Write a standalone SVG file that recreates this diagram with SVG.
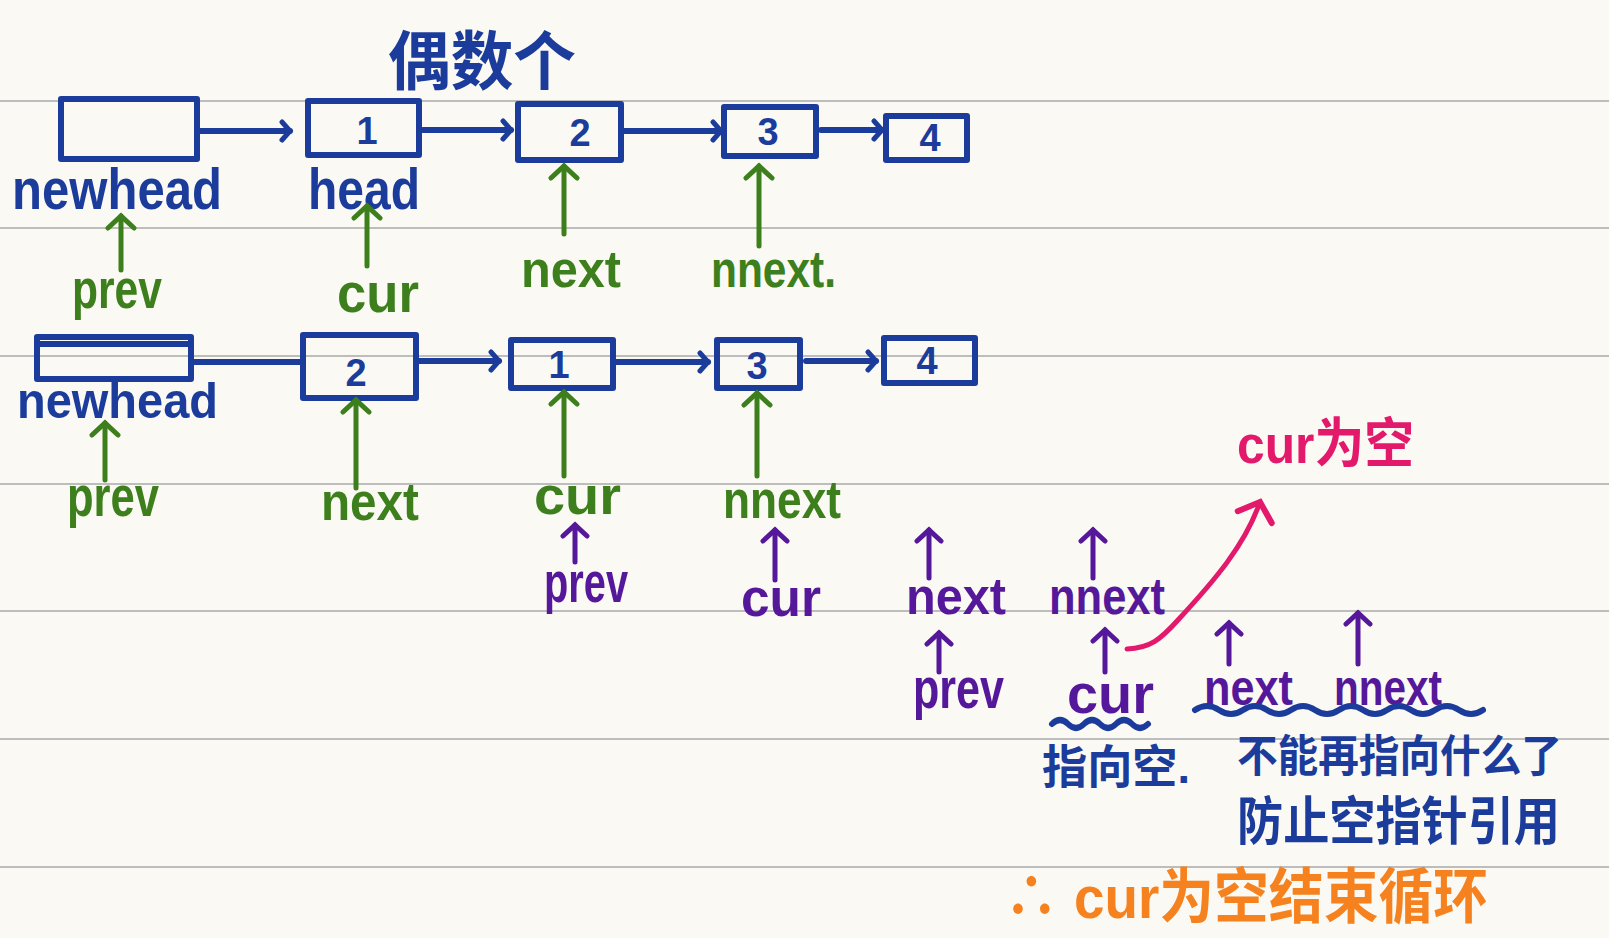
<svg xmlns="http://www.w3.org/2000/svg" width="1609" height="938" viewBox="0 0 1609 938">
<style>
.rule{stroke:#bdbdbd;stroke-width:2}
.box{fill:none;stroke:#1c3c9c;stroke-width:6;stroke-linejoin:round}
.bl{stroke:#1c3c9c;stroke-width:6;fill:none;stroke-linecap:round}
.gr{stroke:#3d7f1c;stroke-width:5;fill:none;stroke-linecap:round}
.pu{stroke:#55189a;stroke-width:5;fill:none;stroke-linecap:round}
.pk{stroke:#e3196c;stroke-width:5;fill:none;stroke-linecap:round}
text{font-family:"Liberation Sans","Noto Sans CJK SC",sans-serif;font-weight:bold}
.tb{fill:#1c3c9c}
.tg{fill:#3d7f1c}
.tp{fill:#55189a}
.num{fill:#1c3c9c;font-size:38px;text-anchor:middle}
</style>
<defs>
<marker id="ab" markerUnits="userSpaceOnUse" markerWidth="24" markerHeight="24" refX="12" refY="12" orient="auto" viewBox="0 0 24 24"><path d="M4 3 L12 12 L4 21" fill="none" stroke="#1c3c9c" stroke-width="5" stroke-linecap="round"/></marker>
<marker id="ag" markerUnits="userSpaceOnUse" markerWidth="32" markerHeight="32" refX="16" refY="16" orient="auto" viewBox="0 0 32 32"><path d="M4 3 L16 16 L4 29" fill="none" stroke="#3d7f1c" stroke-width="5" stroke-linecap="round"/></marker>
<marker id="ap" markerUnits="userSpaceOnUse" markerWidth="30" markerHeight="30" refX="15" refY="15" orient="auto" viewBox="0 0 30 30"><path d="M4 3 L15 15 L4 27" fill="none" stroke="#55189a" stroke-width="5" stroke-linecap="round"/></marker>
<marker id="ak" markerUnits="userSpaceOnUse" markerWidth="44" markerHeight="44" refX="22" refY="22" orient="auto" viewBox="0 0 44 44"><path d="M6 4 L22 22 L6 40" fill="none" stroke="#e3196c" stroke-width="6" stroke-linecap="round"/></marker>
</defs>
<rect width="1609" height="938" fill="#fbf9f3"/>
<g id="rules">
<line class="rule" x1="0" y1="101" x2="1609" y2="101"/>
<line class="rule" x1="0" y1="228" x2="1609" y2="228"/>
<line class="rule" x1="0" y1="356" x2="1609" y2="356"/>
<line class="rule" x1="0" y1="484" x2="1609" y2="484"/>
<line class="rule" x1="0" y1="611" x2="1609" y2="611"/>
<line class="rule" x1="0" y1="739" x2="1609" y2="739"/>
<line class="rule" x1="0" y1="867" x2="1609" y2="867"/>
</g>
<g id="title"><text class="tb" x="388" y="84" font-size="64" textLength="188" lengthAdjust="spacingAndGlyphs">偶数个</text></g>

<g id="r1-newhead"><rect class="box" x="61" y="99" width="136" height="60"/><text class="tb" x="12" y="209" font-size="58" textLength="210" lengthAdjust="spacingAndGlyphs">newhead</text></g>
<g id="r1-n1"><rect class="box" x="308" y="101" width="111" height="54"/><text class="num" x="367" y="144">1</text><text class="tb" x="308" y="209" font-size="58" textLength="112" lengthAdjust="spacingAndGlyphs">head</text></g>
<g id="r1-n2"><rect class="box" x="518" y="104" width="103" height="56"/><text class="num" x="580" y="146">2</text></g>
<g id="r1-n3"><rect class="box" x="724" y="107" width="92" height="49"/><text class="num" x="768" y="145">3</text></g>
<g id="r1-n4"><rect class="box" x="886" y="116" width="81" height="44"/><text class="num" x="930" y="151">4</text></g>

<g id="r1-labels">
<text class="tg" x="72" y="308" font-size="56" textLength="90" lengthAdjust="spacingAndGlyphs">prev</text>
<text class="tg" x="337" y="312" font-size="56" textLength="82" lengthAdjust="spacingAndGlyphs">cur</text>
<text class="tg" x="521" y="287" font-size="52" textLength="100" lengthAdjust="spacingAndGlyphs">next</text>
<text class="tg" x="711" y="287" font-size="52" textLength="125" lengthAdjust="spacingAndGlyphs">nnext.</text>
</g>

<g id="r2-newhead"><rect class="box" x="37" y="337" width="154" height="42"/><line class="bl" x1="40" y1="344" x2="188" y2="344"/><text class="tb" x="17" y="418" font-size="50" textLength="201" lengthAdjust="spacingAndGlyphs">newhead</text></g>
<g id="r2-n2"><rect class="box" x="303" y="335" width="113" height="63"/><text class="num" x="356" y="386" font-size="52">2</text></g>
<g id="r2-n1"><rect class="box" x="511" y="340" width="102" height="48"/><text class="num" x="559" y="378">1</text></g>
<g id="r2-n3"><rect class="box" x="717" y="340" width="83" height="48"/><text class="num" x="757" y="379">3</text></g>
<g id="r2-n4"><rect class="box" x="884" y="338" width="91" height="45"/><text class="num" x="927" y="374">4</text></g>

<g id="r2-labels">
<text class="tg" x="67" y="516" font-size="58" textLength="92" lengthAdjust="spacingAndGlyphs">prev</text>
<text class="tg" x="321" y="520" font-size="54" textLength="98" lengthAdjust="spacingAndGlyphs">next</text>
<text class="tg" x="534" y="514" font-size="54" textLength="87" lengthAdjust="spacingAndGlyphs">cur</text>
<text class="tg" x="723" y="518" font-size="54" textLength="118" lengthAdjust="spacingAndGlyphs">nnext</text>
</g>

<g id="r3-labels">
<text class="tp" x="544" y="602" font-size="58" textLength="84" lengthAdjust="spacingAndGlyphs">prev</text>
<text class="tp" x="741" y="616" font-size="54" textLength="80" lengthAdjust="spacingAndGlyphs">cur</text>
<text class="tp" x="906" y="614" font-size="52" textLength="100" lengthAdjust="spacingAndGlyphs">next</text>
<text class="tp" x="1049" y="614" font-size="52" textLength="116" lengthAdjust="spacingAndGlyphs">nnext</text>
<text class="tp" x="913" y="708" font-size="58" textLength="91" lengthAdjust="spacingAndGlyphs">prev</text>
<text class="tp" x="1067" y="713" font-size="56" textLength="87" lengthAdjust="spacingAndGlyphs">cur</text>
<text class="tp" x="1204" y="705" font-size="50" textLength="89" lengthAdjust="spacingAndGlyphs">next</text>
<text class="tp" x="1334" y="705" font-size="50" textLength="108" lengthAdjust="spacingAndGlyphs">nnext</text>
</g>

<g id="notes">
<text x="1237" y="463" font-size="54" fill="#e3196c" textLength="177" lengthAdjust="spacingAndGlyphs">cur为空</text>
<path class="bl" d="M1052 724 q8 -8 16 0 t16 0 t16 0 t16 0 t16 0 t16 0" stroke-width="4"/>
<path class="bl" d="M1195 710 q12 -8 24 0 t24 0 t24 0 t24 0 t24 0 t24 0 t24 0 t24 0 t24 0 t24 0 t24 0 t24 0" stroke-width="4"/>
<text class="tb" x="1042" y="783" font-size="46" textLength="148" lengthAdjust="spacingAndGlyphs">指向空.</text>
<text class="tb" x="1237" y="772" font-size="44" textLength="325" lengthAdjust="spacingAndGlyphs">不能再指向什么了</text>
<text class="tb" x="1237" y="840" font-size="52" textLength="323" lengthAdjust="spacingAndGlyphs">防止空指针引用</text>
<text x="1004" y="918" font-size="60" fill="#f5821f" textLength="484" lengthAdjust="spacingAndGlyphs">∴ cur为空结束循环</text>
</g>

<g id="connectors">
<line class="bl" x1="200" y1="131" x2="290" y2="131" marker-end="url(#ab)"/>
<line class="bl" x1="423" y1="130" x2="511" y2="130" marker-end="url(#ab)"/>
<line class="bl" x1="624" y1="131" x2="721" y2="131" marker-end="url(#ab)"/>
<line class="bl" x1="821" y1="130" x2="882" y2="130" marker-end="url(#ab)"/>
<line class="bl" x1="193" y1="362" x2="303" y2="362"/>
<line class="bl" x1="419" y1="361" x2="499" y2="361" marker-end="url(#ab)"/>
<line class="bl" x1="616" y1="362" x2="708" y2="362" marker-end="url(#ab)"/>
<line class="bl" x1="806" y1="361" x2="876" y2="361" marker-end="url(#ab)"/>

<line class="gr" x1="121" y1="270" x2="121" y2="216" marker-end="url(#ag)"/>
<line class="gr" x1="367" y1="266" x2="367" y2="206" marker-end="url(#ag)"/>
<line class="gr" x1="564" y1="234" x2="564" y2="166" marker-end="url(#ag)"/>
<line class="gr" x1="759" y1="246" x2="759" y2="166" marker-end="url(#ag)"/>
<line class="gr" x1="105" y1="480" x2="105" y2="423" marker-end="url(#ag)"/>
<line class="gr" x1="356" y1="488" x2="356" y2="400" marker-end="url(#ag)"/>
<line class="gr" x1="564" y1="476" x2="564" y2="392" marker-end="url(#ag)"/>
<line class="gr" x1="757" y1="476" x2="757" y2="393" marker-end="url(#ag)"/>

<line class="pu" x1="575" y1="562" x2="575" y2="525" marker-end="url(#ap)"/>
<line class="pu" x1="775" y1="580" x2="775" y2="530" marker-end="url(#ap)"/>
<line class="pu" x1="929" y1="578" x2="929" y2="530" marker-end="url(#ap)"/>
<line class="pu" x1="1093" y1="578" x2="1093" y2="530" marker-end="url(#ap)"/>
<line class="pu" x1="939" y1="672" x2="939" y2="633" marker-end="url(#ap)"/>
<line class="pu" x1="1105" y1="672" x2="1105" y2="630" marker-end="url(#ap)"/>
<line class="pu" x1="1229" y1="664" x2="1229" y2="623" marker-end="url(#ap)"/>
<line class="pu" x1="1358" y1="664" x2="1358" y2="613" marker-end="url(#ap)"/>

<path class="pk" d="M1127 649 C1150 648 1160 640 1178 620 C1215 580 1245 545 1260 502" marker-end="url(#ak)"/>
</g>
</svg>
